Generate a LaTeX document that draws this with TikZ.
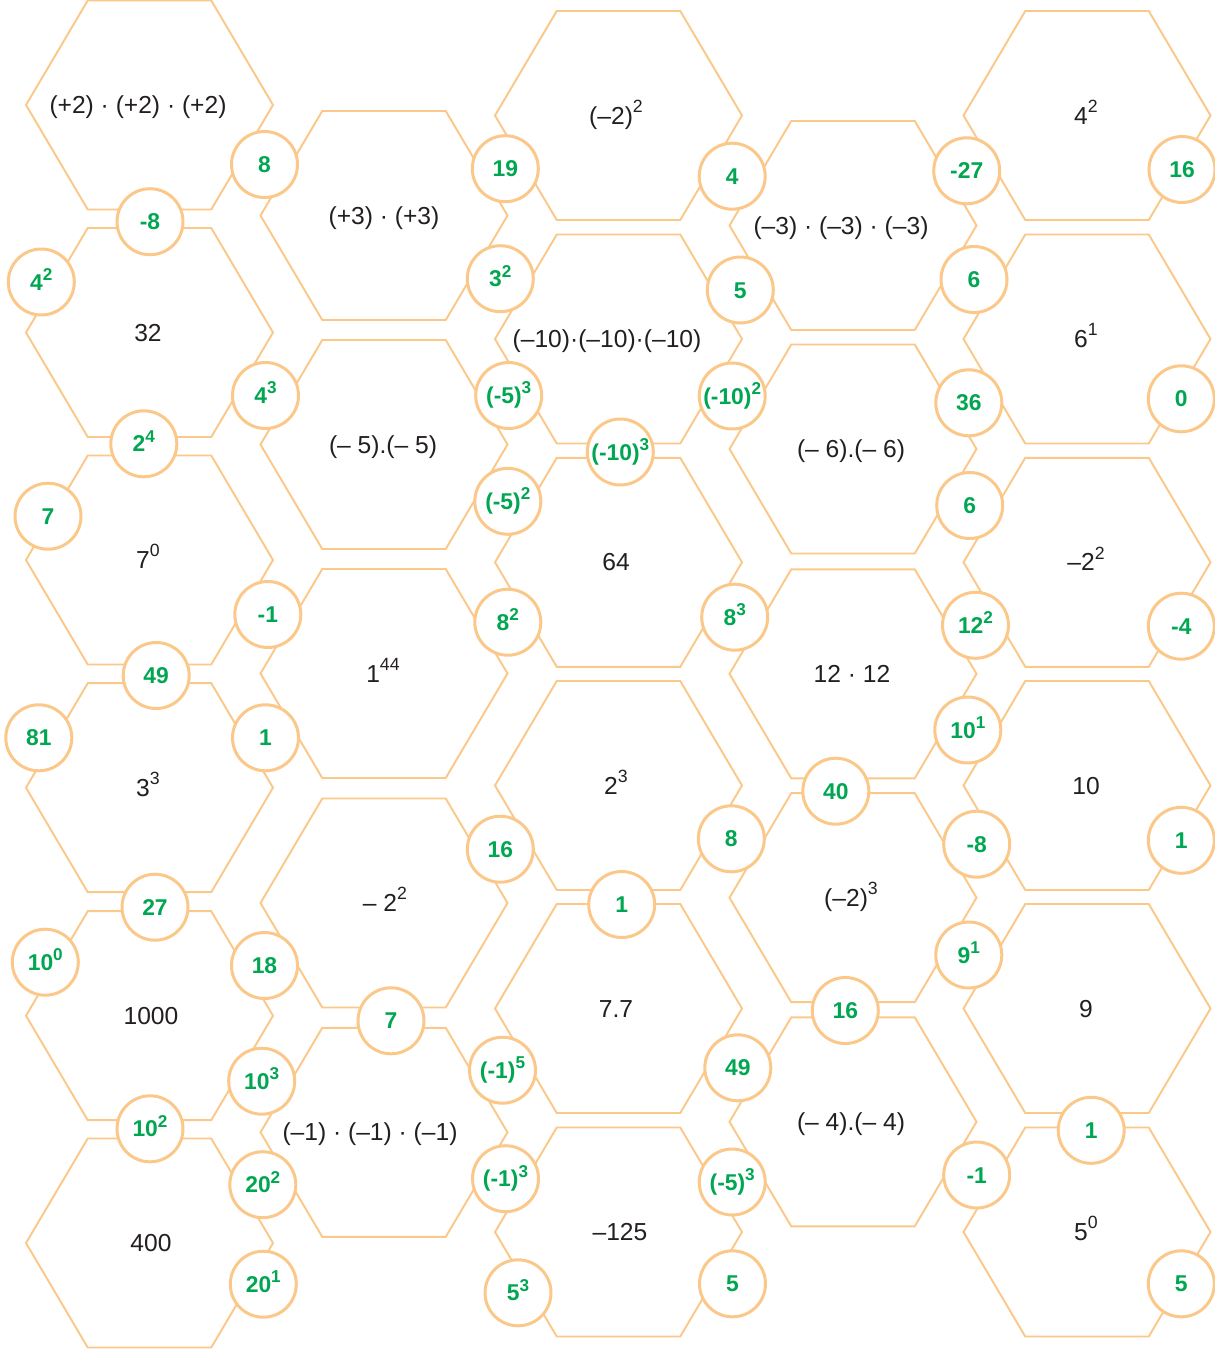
\documentclass[tikz,border=0pt]{standalone}
\usepackage{graphicx}
\usepackage{fontspec}
\setmainfont{Liberation Sans}
\usetikzlibrary{positioning}
\definecolor{peach}{RGB}{251,200,138}
\definecolor{sprout}{RGB}{0,166,81}
\definecolor{ink}{RGB}{35,31,32}
\newcommand\pw[2]{#1\raisebox{0.48em}{\scalebox{0.72}{#2}}}
\newcommand\gpw[2]{#1\raisebox{0.42em}{\scalebox{0.75}{#2}}}

\begin{document}
\begin{tikzpicture}[x=0.02cm,y=-0.02cm,
    cell/.style={draw=peach,line width=1.1pt},
    term/.style={text=ink,font=\fontsize{14}{17}\selectfont,inner sep=0pt,anchor=base},
    answer/.style={circle,draw=peach,line width=1.7pt,fill=white,minimum size=1.32cm,
      inner sep=0pt,text height=0.32cm,text depth=0pt,text=sprout,
      font=\fontsize{13}{15}\selectfont\bfseries}]
  \fill[white,use as bounding box] (0,0) rectangle (1214,1349);
  \foreach \n/\cx/\cy/\tx/\txt in {
      a1/149.5/105/138/{(+2) · (+2) · (+2)}, a2/149.5/332.5/148/{32},
      a3/149.5/560/148/{\pw{7}{0}}, a4/149.5/787.7/148/{\pw{3}{3}},
      a5/149.5/1015.7/151/{1000}, a6/149.5/1243/151/{400},
      b1/384/215.5/384/{(+3) · (+3)}, b2/384/444.5/383/{(– 5).(– 5)},
      b3/384/673.5/383/{\pw{1}{44}}, b4/384/903/385/{– \pw{2}{2}},
      b5/384/1132.3/370/{(–1) · (–1) · (–1)},
      c1/618.5/115.5/616/{\pw{(–2)}{2}}, c2/618.5/339/607/{(–10)·(–10)·(–10)},
      c3/618.5/562.3/616/{64}, c4/618.5/785.5/616/{\pw{2}{3}},
      c5/618.5/1008.5/616/{7.7}, c6/618.5/1232/620/{–125},
      d1/853/225.5/841/{(–3) · (–3) · (–3)}, d2/853/449/851/{(– 6).(– 6)},
      d3/853/673.8/852/{12 · 12}, d4/853/897.7/851/{\pw{(–2)}{3}},
      d5/853/1121.8/851/{(– 4).(– 4)},
      e1/1087/115.5/1086/{\pw{4}{2}}, e2/1087/339/1086/{\pw{6}{1}},
      e3/1087/562.3/1086/{–\pw{2}{2}}, e4/1087/785.5/1086/{10},
      e5/1087/1008.5/1086/{9}, e6/1087/1232/1086/{\pw{5}{0}}}{
    \draw[cell] (\cx,\cy) ++(-123.5,0) -- ++(61.75,-104.5) -- ++(123.5,0)
      -- ++(61.75,104.5) -- ++(-61.75,104.5) -- ++(-123.5,0) -- cycle;
    \node[term] (\n) at (\tx,\cy+8.5) {\txt};
  }
  \foreach \cx/\cy/\v [count=\i] in {
      264.5/164.5/8, 150/221.7/-8, 41.3/282/{\gpw{4}{2}}, 265.5/395.5/{\gpw{4}{3}},
      143.8/443.8/{\gpw{2}{4}}, 505.3/168.7/19, 732.2/176.2/4, 500.3/278.7/{\gpw{3}{2}},
      740.3/290/5, 508.7/395.5/{\gpw{(-5)}{3}}, 732.2/396/{\gpw{(-10)}{2}},
      620.3/452/{\gpw{(-10)}{3}}, 966.7/170.8/-27, 1182/169.5/16, 974/279.5/6,
      968.8/402.8/36, 1181.3/398.8/0, 48/516.2/7, 267.8/614.5/-1, 156.2/675.5/49,
      38.8/737.8/81, 265.5/737.8/1, 155/907.2/27, 507.8/501.3/{\gpw{(-5)}{2}},
      507.8/622.2/{\gpw{8}{2}}, 734.7/617.2/{\gpw{8}{3}}, 500.3/849.2/16,
      731.3/838.8/8, 621.7/904.5/1, 969.7/505.5/6, 975.5/625.3/{\gpw{12}{2}},
      1181.3/626.2/-4, 967.8/730/{\gpw{10}{1}}, 835.8/791.2/40, 976.7/844.2/-8,
      1181.3/840.3/1, 45.3/962.2/{\gpw{10}{0}}, 264.5/965.5/18, 391/1020.8/7,
      261.7/1081.2/{\gpw{10}{3}}, 150/1128.8/{\gpw{10}{2}}, 262.8/1184.7/{\gpw{20}{2}},
      263.3/1284.2/{\gpw{20}{1}}, 502.5/1070.2/{\gpw{(-1)}{5}}, 737.8/1067.8/49,
      505.5/1178.7/{\gpw{(-1)}{3}}, 732.2/1182/{\gpw{(-5)}{3}}, 518/1292.8/{\gpw{5}{3}},
      732.5/1283.8/5, 968.8/955/{\gpw{9}{1}}, 845.3/1010.5/16, 1091.2/1130.3/1,
      976.7/1175/-1, 1181.3/1283.8/5}
    \node[answer] (r\i) at (\cx,\cy) {\v};
\end{tikzpicture}
\end{document}
